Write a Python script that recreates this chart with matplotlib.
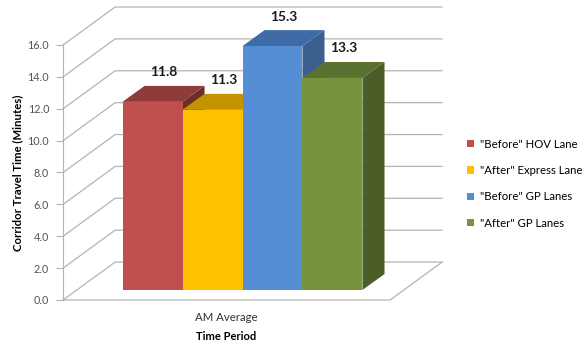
import matplotlib
matplotlib.use("Agg")
import matplotlib.pyplot as plt
from matplotlib.patches import Polygon, Patch

plt.rcParams['font.family'] = ['Lato', 'DejaVu Sans']

# data
series = ['"Before" HOV Lane', '"After" Express Lane', '"Before" GP Lanes', '"After" GP Lanes']
values = [11.8, 11.3, 15.3, 13.3]
category = "AM Average"
yticks = [0, 2, 4, 6, 8, 10, 12, 14, 16]

front_colors = ['#C0504D', '#FFC000', '#558ED5', '#77933C']
top_colors = ['#8E3B39', '#C49300', '#3F6CA6', '#5B7130']
side_colors = ['#6E2C2A', '#9A7400', '#3A5E8E', '#4B5E27']
grid_color = '#B4B4B4'

# pseudo-3D geometry (data units)
wall_left, wall_right = -2.99, 2.46
wall_dx, wall_dy = 0.867, 2.38
bar_base = 0.63
bar_dx, bar_dy = 0.367, 1.0
bar_w = 1.0

fig = plt.figure(figsize=(5.84, 3.42), dpi=100)
ax = fig.add_axes([0, 0, 1, 1])
ax.set_xlim(-4.042, 5.692)
ax.set_ylim(-2.635, 18.82)
ax.patch.set_alpha(0)

# walls / gridlines
for v in yticks:
    ax.plot([wall_left, wall_left + wall_dx, wall_right + wall_dx],
            [v, v + wall_dy, v + wall_dy], color=grid_color, lw=0.9, zorder=1)
ax.plot([wall_left, wall_right, wall_right + wall_dx],
        [0, 0, wall_dy], color=grid_color, lw=0.9, zorder=1)

# bars
n = len(values)
centers = [i - (n - 1) / 2 for i in range(n)]
for i, (c, v) in enumerate(zip(centers, values)):
    x0, x1 = c - bar_w / 2, c + bar_w / 2
    y0, y1 = bar_base, bar_base + v
    side = Polygon([(x1, y0), (x1 + bar_dx, y0 + bar_dy), (x1 + bar_dx, y1 + bar_dy), (x1, y1)],
                   closed=True, fc=side_colors[i], ec='none', zorder=2 + i)
    top = Polygon([(x0, y1), (x0 + bar_dx, y1 + bar_dy), (x1 + bar_dx, y1 + bar_dy), (x1, y1)],
                  closed=True, fc=top_colors[i], ec='none', zorder=2 + i)
    ax.add_patch(side)
    ax.add_patch(top)
    ax.bar(c, v, width=bar_w, bottom=y0, color=front_colors[i], zorder=2 + i + 0.5)
    ax.text(c + 0.18, y1 + bar_dy + 0.85, f"{v:.1f}", ha='center', va='center',
            fontsize=10, fontweight='bold', color='#1a1a1a', zorder=10)

# front y axis
for s in ['top', 'right', 'bottom']:
    ax.spines[s].set_visible(False)
ax.spines['left'].set_position(('data', wall_left))
ax.spines['left'].set_bounds(0, 16)
ax.spines['left'].set_color(grid_color)
ax.set_yticks(yticks)
ax.set_yticklabels([f"{t:.1f}" for t in yticks])
ax.tick_params(axis='y', direction='out', length=5, color=grid_color, labelsize=7.8,
               labelcolor='#555555', pad=5)
ax.tick_params(axis='x', bottom=False, labelbottom=False)

# axis texts
mid = (wall_left + wall_right) / 2
ax.text(mid, -1.12, category, ha='center', va='center', fontsize=8.2, color='#333333')
ax.text(mid, -2.3, "Time Period", ha='center', va='center', fontsize=8, fontweight='bold')
fig.text(18 / 584, 1 - 173 / 342, "Corridor Travel Time (Minutes)", rotation=90,
         ha='center', va='center', fontsize=8.2, fontweight='bold')

handles = [Patch(facecolor=col, edgecolor='none', label=s) for col, s in zip(front_colors, series)]
fig.legend(handles=handles, loc='upper left', bbox_to_anchor=(462 / 584, 1 - 134 / 342),
           frameon=False, fontsize=8.2, handlelength=0.65, handleheight=0.65,
           handletextpad=0.5, labelspacing=1.35, borderaxespad=0)

fig.savefig("out.png", dpi=100)
